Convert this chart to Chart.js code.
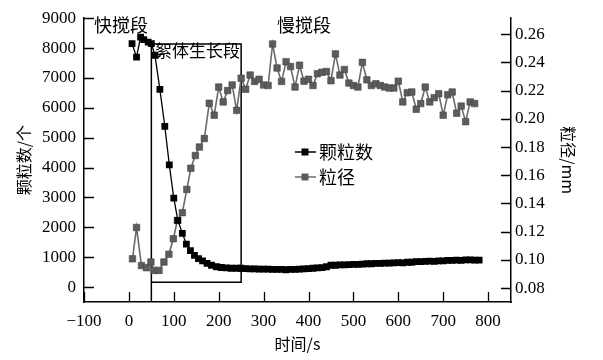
<!DOCTYPE html>
<html>
<head>
<meta charset="utf-8">
<script src="https://cdn.jsdelivr.net/npm/chart.js@4.4.1/dist/chart.umd.min.js"></script>
<style>
  body { margin: 0; background: #fff; }
  canvas { display: block; }
</style>
</head>
<body>
<canvas id="myCanvas" width="603" height="360"></canvas>
<script>
'use strict';

// data

// 颗粒数 (left axis)
let countTimes = [7, 17, 26, 33, 43, 50, 58, 69, 80, 90, 100, 109, 119, 128, 137, 146, 155, 164, 174, 184, 195, 206, 217, 228, 240,
  250, 260, 270, 280, 290, 300, 310, 320, 330, 340, 350, 360, 370, 380, 390, 400, 410, 420, 430, 440, 450, 460, 470, 480, 490,
  500, 510, 520, 530, 540, 550, 560, 570, 580, 590, 600, 610, 620, 630, 640, 650, 660, 670, 680, 690, 700, 710, 720, 730, 740,
  750, 760, 770, 780];
let countValues = [8150, 7700, 8370, 8280, 8200, 8150, 7760, 6620, 5380, 4090, 2980, 2230, 1800, 1440, 1220, 1060, 950, 875, 790, 730, 680, 655, 640, 630, 630,
  630, 620, 610, 610, 600, 600, 600, 590, 590, 590, 580, 590, 590, 600, 610, 620, 630, 640, 650, 680, 730, 730, 740, 740, 750,
  760, 760, 770, 780, 780, 790, 790, 800, 800, 810, 820, 810, 830, 830, 850, 850, 860, 870, 860, 880, 880, 890, 890, 900, 890,
  910, 910, 900, 905];

// 粒径 (right axis)
let sizeTimes = [8, 17, 28, 39, 49, 56, 67, 78, 89, 99, 108, 119, 129, 138, 148, 157, 168, 179, 190, 200,
  210, 220, 230, 240, 250, 260, 270, 280, 290, 300, 310, 320, 330, 340, 350, 360, 370, 380, 390, 400,
  410, 420, 430, 440, 450, 460, 470, 480, 490, 500, 510, 520, 530, 540, 550, 560, 570, 580, 590, 600,
  610, 620, 630, 640, 650, 660, 670, 680, 690, 700, 710, 720, 730, 740, 750, 760, 770];
let sizeValues = [0.1008, 0.123, 0.096, 0.0945, 0.0985, 0.0926, 0.0926, 0.0985, 0.104, 0.115, 0.128, 0.1335, 0.150, 0.165, 0.174, 0.180, 0.186, 0.211, 0.2026, 0.2225,
  0.212, 0.220, 0.224, 0.206, 0.2288, 0.221, 0.231, 0.2265, 0.228, 0.224, 0.2236, 0.253, 0.236, 0.2265, 0.2405, 0.237, 0.2225, 0.238, 0.2267, 0.228,
  0.2236, 0.232, 0.233, 0.2335, 0.227, 0.246, 0.231, 0.235, 0.2253, 0.2236, 0.2225, 0.240, 0.2276, 0.2236, 0.2248, 0.2236, 0.2225, 0.2218, 0.2218, 0.2267,
  0.212, 0.2185, 0.219, 0.2068, 0.2108, 0.2225, 0.212, 0.215, 0.2178, 0.2026, 0.217, 0.219, 0.204, 0.209, 0.198, 0.212, 0.2108];

let xTicks = [-100, 0, 100, 200, 300, 400, 500, 600, 700, 800];
let countTicks = [0, 1000, 2000, 3000, 4000, 5000, 6000, 7000, 8000, 9000];
let sizeTicks = [0.08, 0.10, 0.12, 0.14, 0.16, 0.18, 0.20, 0.22, 0.24, 0.26];

// stage box (time from/to, count bottom/top)
let boxTimes = [50, 250];
let boxCounts = [160, 8140];

Chart.defaults.font.family = 'Liberation Serif';
const cjkFont = '"Noto Sans CJK SC", sans-serif';

function toPoints(xs, ys) {
  let pts = [];
  for (let i = 0; i < xs.length; i++) {
    pts.push({ x: xs[i], y: ys[i] });
  }
  return pts;
}

function fixTicks(list) {
  return function (scale) {
    scale.ticks = list.map(v => ({ value: v }));
  };
}

// inward ticks, the stage box, labels and legend
const extras = {
  id: 'extras',
  beforeDatasetsDraw(chart) {
    const ctx = chart.ctx;
    const x = chart.scales.x;
    const y = chart.scales.y;
    const area = chart.chartArea;
    let x1 = x.getPixelForValue(boxTimes[0]);
    let x2 = x.getPixelForValue(boxTimes[1]);
    let yTop = y.getPixelForValue(boxCounts[1]);
    let yBot = y.getPixelForValue(boxCounts[0]);
    ctx.save();
    ctx.strokeStyle = '#000';
    ctx.lineWidth = 1.5;
    ctx.beginPath();
    ctx.moveTo(x1, area.bottom);
    ctx.lineTo(x1, yTop);
    ctx.lineTo(x2, yTop);
    ctx.lineTo(x2, yBot);
    ctx.lineTo(x1, yBot);
    ctx.stroke();
    ctx.restore();
  },
  afterDraw(chart) {
    const ctx = chart.ctx;
    const area = chart.chartArea;
    const x = chart.scales.x;
    const y = chart.scales.y;
    const y1 = chart.scales.y1;
    const len = 10;
    ctx.save();
    ctx.strokeStyle = '#000';
    ctx.lineWidth = 1.3;
    ctx.beginPath();
    xTicks.forEach(v => {
      let p = Math.round(x.getPixelForValue(v)) + 0.5;
      ctx.moveTo(p, area.bottom);
      ctx.lineTo(p, area.bottom - len);
    });
    countTicks.forEach(v => {
      let p = Math.round(y.getPixelForValue(v)) + 0.5;
      ctx.moveTo(area.left, p);
      ctx.lineTo(area.left + len, p);
    });
    sizeTicks.forEach(v => {
      let p = Math.round(y1.getPixelForValue(v)) + 0.5;
      ctx.moveTo(area.right, p);
      ctx.lineTo(area.right - len, p);
    });
    ctx.stroke();

    // stage labels
    ctx.fillStyle = '#000';
    ctx.textBaseline = 'middle';
    ctx.textAlign = 'left';
    ctx.font = '18px ' + cjkFont;
    ctx.fillText('快搅段', 94, 25);
    ctx.fillText('慢搅段', 277, 25);
    ctx.font = '17px ' + cjkFont;
    ctx.fillText('絮体生长段', 155, 51);

    // legend
    const items = chart.data.datasets;
    const rows = [152, 177];
    items.forEach((ds, i) => {
      let yy = rows[i];
      ctx.strokeStyle = ds.borderColor;
      ctx.lineWidth = 1.5;
      ctx.beginPath();
      ctx.moveTo(295, yy);
      ctx.lineTo(316, yy);
      ctx.stroke();
      ctx.fillStyle = ds.pointBackgroundColor;
      ctx.fillRect(301.5, yy - 3.5, 7, 7);
      ctx.fillStyle = '#000';
      ctx.font = '18px ' + cjkFont;
      ctx.fillText(ds.label, 319, yy);
    });
    ctx.restore();
  }
};

const data = {
  datasets: [
    {
      label: '颗粒数',
      data: toPoints(countTimes, countValues),
      yAxisID: 'y',
      borderColor: '#000',
      borderWidth: 1.3,
      pointStyle: 'rect',
      pointRadius: 4.8,
      pointBackgroundColor: '#000',
      pointBorderColor: '#000',
      pointBorderWidth: 0,
      tension: 0
    },
    {
      label: '粒径',
      data: toPoints(sizeTimes, sizeValues),
      yAxisID: 'y1',
      borderColor: '#6b6b6b',
      borderWidth: 1.6,
      pointStyle: 'rect',
      pointRadius: 4.6,
      pointBackgroundColor: '#5c5c5c',
      pointBorderColor: '#444',
      pointBorderWidth: 0.6,
      tension: 0
    }
  ]
};

const config = {
  type: 'line',
  data: data,
  plugins: [extras],
  options: {
    responsive: false,
    animation: false,
    layout: { padding: { top: 16, left: 0, right: 0, bottom: 0 } },
    plugins: {
      legend: { display: false },
      tooltip: { enabled: false }
    },
    scales: {
      x: {
        type: 'linear',
        min: -100,
        max: 851,
        afterBuildTicks: fixTicks(xTicks),
        afterFit(scale) { scale.height = 58; },
        grid: { drawOnChartArea: false, drawTicks: false },
        border: { display: true, color: '#000', width: 1.5 },
        ticks: { color: '#000', font: { family: 'Liberation Serif', size: 17 }, padding: 9, maxRotation: 0,
          callback: v => (v < 0 ? '\u2212' + Math.abs(v) : String(v)) },
        title: { display: true, text: '时间/s', color: '#000',
          font: { family: cjkFont, size: 16 }, padding: { top: 0, bottom: 6 } }
      },
      y: {
        type: 'linear',
        position: 'left',
        min: -500,
        max: 9000,
        afterBuildTicks: fixTicks(countTicks),
        afterFit(scale) { scale.width = 84; },
        grid: { drawOnChartArea: false, drawTicks: false },
        border: { display: true, color: '#000', width: 1.5 },
        ticks: { color: '#000', font: { family: 'Liberation Serif', size: 17 }, padding: 8, callback: v => String(v) },
        title: { display: true, text: '颗粒数/个', color: '#000',
          font: { family: cjkFont, size: 16 }, padding: { top: 14, bottom: 0 } }
      },
      y1: {
        type: 'linear',
        position: 'right',
        min: 0.0702,
        max: 0.2713,
        afterBuildTicks: fixTicks(sizeTicks),
        afterFit(scale) { scale.width = 92; },
        grid: { drawOnChartArea: false, drawTicks: false },
        border: { display: true, color: '#000', width: 1.5 },
        ticks: { color: '#000', font: { family: 'Liberation Serif', size: 17 }, padding: 4, callback: v => v.toFixed(2) },
        title: { display: true, text: '粒径/mm', color: '#000',
          font: { family: cjkFont, size: 16 }, padding: { top: 25, bottom: 0 } }
      }
    }
  }
};

const chartEl = document.getElementById('myCanvas');
const myChart = new Chart(chartEl, config);
</script>
</body>
</html>
